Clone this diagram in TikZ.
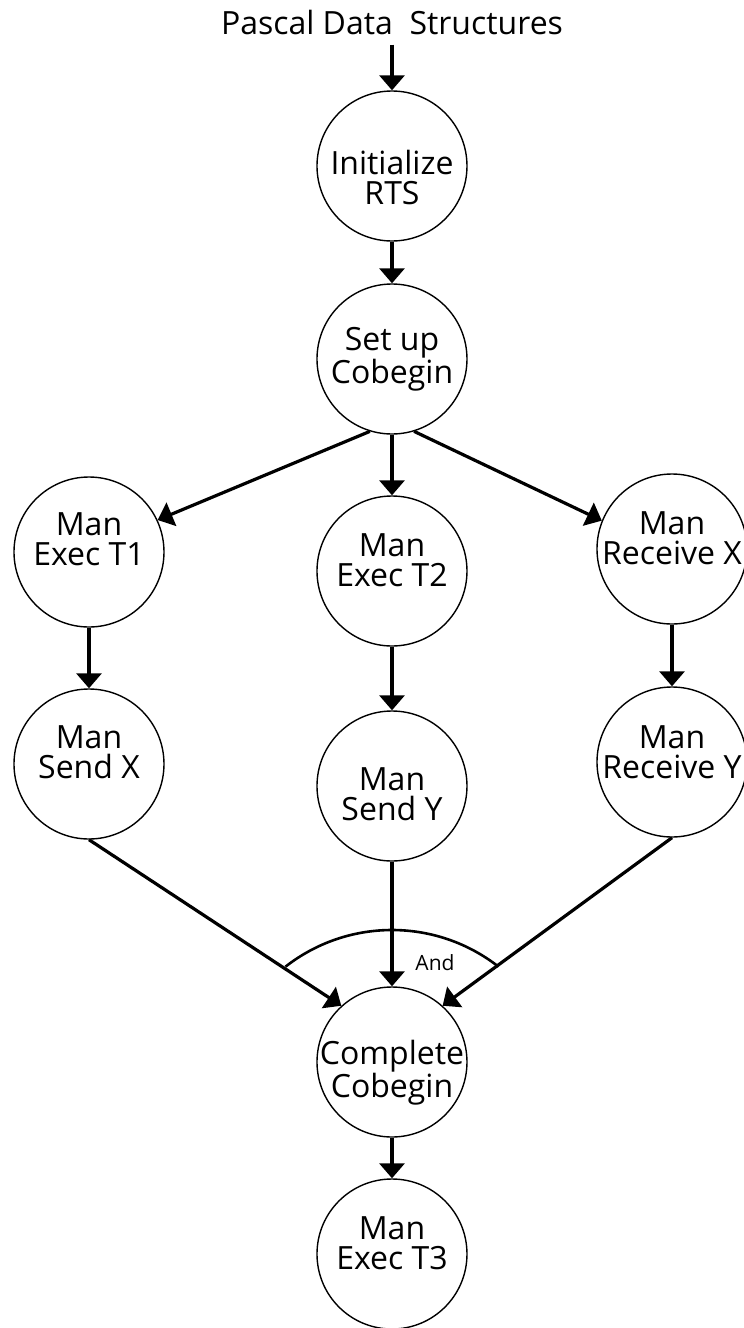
\documentclass[tikz,border=0pt]{standalone}
\usepackage{fontspec}
\setmainfont{Open Sans}
\usepackage{tikz}
\usetikzlibrary{positioning,arrows.meta}

\newcommand{\nodefont}{\fontsize{32}{30}\selectfont}
\tikzset{
  proc/.style={draw, shape=circle, minimum size=150pt, inner sep=0pt, line width=1.4pt},
  flow/.style={->, >={Triangle[width=25pt,length=15pt]}, line width=3.2pt},
  every label/.style={align=center, font=\nodefont}
}

\begin{document}
\begin{tikzpicture}[x=1pt, y=1pt, font=\nodefont]
\useasboundingbox (-392,22) rectangle (352,-1306);
\node[inner sep=10pt] (title) {Pascal Data~ Structures};
\node[proc, below of=title, node distance=144pt, label={[yshift=-11pt]center:Initialize\\RTS}] (init) {};
\node[proc, below of=init, node distance=193pt, label={center:Set up\\Cobegin}] (setup) {};
\node[proc, below of=setup, node distance=212pt, label={[yshift=11pt]center:Man\\Exec T2}] (t2) {};
\node[proc, left of=t2, node distance=303pt, yshift=19pt, label={[yshift=13pt]center:Man\\Exec T1}] (t1) {};
\node[proc, right of=t2, node distance=280pt, yshift=22pt, label={[yshift=11pt]center:Man\\Receive X}] (recx) {};
\node[proc, below of=t1, node distance=212pt, label={[yshift=12pt]center:Man\\Send X}] (sendx) {};
\node[proc, below of=t2, node distance=215pt, label={[yshift=-8pt]center:Man\\Send Y}] (sendy) {};
\node[proc, below of=recx, node distance=213pt, label={[yshift=10pt]center:Man\\Receive Y}] (recy) {};
\node[proc, below of=sendy, node distance=276pt, label={[yshift=-11pt]center:Complete\\Cobegin}] (complete) {};
\node[proc, below of=complete, node distance=192pt, label={[yshift=11pt]center:Man\\Exec T3}] (t3) {};
\node[font=\fontsize{21}{22}\selectfont, above of=complete, node distance=99pt, xshift=43pt] (andlbl) {And};
\draw[flow] (title) -- (init);
\draw[flow] (init) -- (setup);
\draw[flow] (setup.253) -- (t1.25);
\draw[flow] (setup) -- (t2);
\draw[flow] (setup.287) -- (recx.158);
\draw[flow] (t1) -- (sendx);
\draw[flow] (t2) -- (sendy);
\draw[flow] (recx) -- (recy);
\draw[flow] (sendx.south) -- (complete.132);
\draw[flow] (sendy) -- (complete);
\draw[flow] (recy.south) -- (complete.48);
\draw[flow] (complete) -- (t3);
% the And arc over the three joining lines
\draw[line width=2.6pt] ([yshift=-41pt]complete.center) ++(128:173pt) arc[start angle=128, end angle=52, radius=173pt];
\end{tikzpicture}
\end{document}
